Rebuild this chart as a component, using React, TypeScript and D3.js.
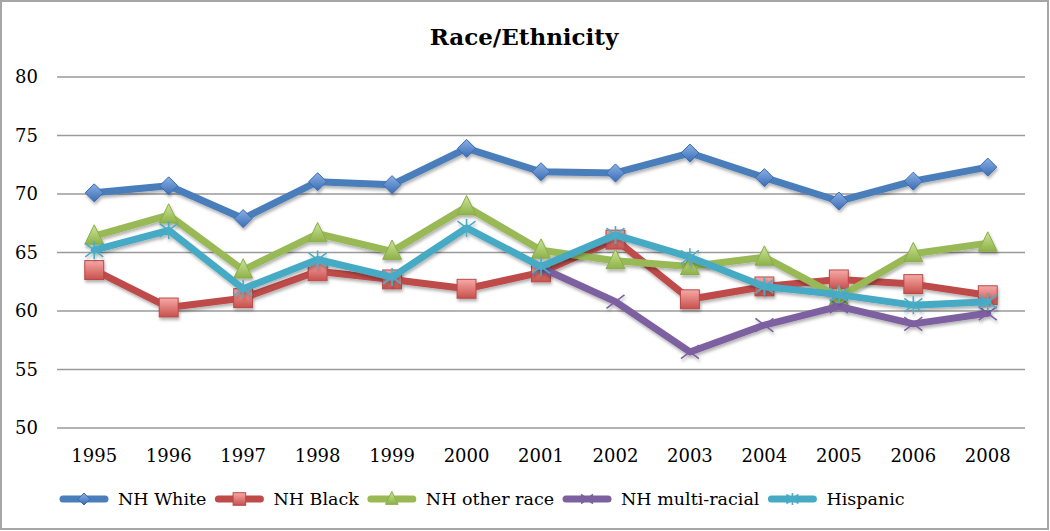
import React, { useEffect, useRef } from "react";
import * as d3 from "d3";

const years = ["1995", "1996", "1997", "1998", "1999", "2000", "2001", "2002", "2003", "2004", "2005", "2006", "2008"];
const nhWhite = [70.1, 70.7, 67.9, 71.05, 70.8, 73.9, 71.9, 71.8, 73.5, 71.4, 69.4, 71.1, 72.3];
const nhBlack = [63.5, 60.3, 61.1, 63.4, 62.7, 61.9, 63.3, 66.1, 61.0, 62.1, 62.7, 62.3, 61.35];
const nhOther = [66.4, 68.2, 63.5, 66.6, 65.1, 68.9, 65.2, 64.3, 63.8, 64.6, 61.2, 64.9, 65.8];
const nhMulti: (number | null)[] = [null, null, null, null, null, null, 63.7, 60.8, 56.5, 58.8, 60.4, 58.9, 59.8];
const hispanic = [65.2, 66.9, 61.9, 64.4, 62.9, 67.1, 63.8, 66.5, 64.6, 62.1, 61.4, 60.5, 60.8];
const yTicks = [50, 55, 60, 65, 70, 75, 80];

type Series = {
  name: string;
  values: (number | null)[];
  line: string;
  marker: "diamond" | "square" | "triangle" | "x" | "star";
  light: string;
  dark: string;
  stroke: string;
};

const series: Series[] = [
  { name: "NH White", values: nhWhite, line: "#4A7EBB", marker: "diamond", light: "#8AB0E4", dark: "#3A6DB5", stroke: "#3B6CB0" },
  { name: "NH Black", values: nhBlack, line: "#BE4B48", marker: "square", light: "#F7A9A7", dark: "#C8504C", stroke: "#B84A47" },
  { name: "NH other race", values: nhOther, line: "#98B954", marker: "triangle", light: "#CDE596", dark: "#8EB24A", stroke: "#8AAD4A" },
  { name: "NH multi-racial", values: nhMulti, line: "#7D60A0", marker: "x", light: "#7D60A0", dark: "#7D60A0", stroke: "#7D60A0" },
  { name: "Hispanic", values: hispanic, line: "#46AAC5", marker: "star", light: "#4BACC6", dark: "#4BACC6", stroke: "#4BACC6" },
];

const W = 1050;
const H = 531;
const FONT = "'DejaVu Serif', serif";

function drawMarker(g: any, s: Series, i: number, x: number, y: number, size: number) {
  const r = size / 2;
  const grad = `url(#grad${i})`;
  if (s.marker === "diamond") {
    g.append("path")
      .attr("d", `M${x},${y - r}L${x + r},${y}L${x},${y + r}L${x - r},${y}Z`)
      .attr("fill", grad).attr("stroke", s.stroke).attr("stroke-width", 1);
  } else if (s.marker === "square") {
    const a = r * 1.05;
    g.append("rect").attr("x", x - a).attr("y", y - a).attr("width", 2 * a).attr("height", 2 * a)
      .attr("fill", grad).attr("stroke", s.stroke).attr("stroke-width", 1);
  } else if (s.marker === "triangle") {
    const a = r * 1.05;
    g.append("path")
      .attr("d", `M${x},${y - a * 1.2}L${x + a},${y + a * 0.85}L${x - a},${y + a * 0.85}Z`)
      .attr("fill", grad).attr("stroke", s.stroke).attr("stroke-width", 1);
  } else if (s.marker === "x") {
    g.append("path")
      .attr("d", `M${x - r},${y - r * 0.75}L${x + r},${y + r * 0.75}M${x - r},${y + r * 0.75}L${x + r},${y - r * 0.75}`)
      .attr("stroke", s.stroke).attr("stroke-width", 1.6).attr("fill", "none");
  } else {
    g.append("path")
      .attr("d", `M${x - r},${y - r * 0.75}L${x + r},${y + r * 0.75}M${x - r},${y + r * 0.75}L${x + r},${y - r * 0.75}M${x},${y - r}L${x},${y + r}`)
      .attr("stroke", s.stroke).attr("stroke-width", 1.6).attr("fill", "none");
  }
}

export default function App() {
  const ref = useRef<SVGSVGElement | null>(null);

  useEffect(() => {
    const svg = d3.select(ref.current!);
    svg.selectAll("*").remove();

    const defs = svg.append("defs");
    series.forEach((s, i) => {
      const lg = defs.append("linearGradient").attr("id", `grad${i}`).attr("x1", 0).attr("y1", 0).attr("x2", 0).attr("y2", 1);
      lg.append("stop").attr("offset", "0%").attr("stop-color", s.light);
      lg.append("stop").attr("offset", "100%").attr("stop-color", s.dark);
    });
    const f = defs.append("filter").attr("id", "shadow").attr("x", "-10%").attr("y", "-10%").attr("width", "120%").attr("height", "130%");
    f.append("feDropShadow").attr("dx", 1).attr("dy", 2.5).attr("stdDeviation", 1.8).attr("flood-color", "#000").attr("flood-opacity", 0.3);

    svg.append("rect").attr("x", 1).attr("y", 1).attr("width", W - 3).attr("height", H - 3)
      .attr("fill", "#fff").attr("stroke", "#A6A6A6").attr("stroke-width", 2);

    svg.append("text").attr("x", 524).attr("y", 45).attr("text-anchor", "middle")
      .attr("font-family", FONT).attr("font-weight", "bold").attr("font-size", 23).attr("fill", "#000")
      .text("Race/Ethnicity");

    const x = d3.scalePoint<string>().domain(years).range([57, 1025]).padding(0.5);
    const y = d3.scaleLinear().domain([50, 80]).range([428, 77]);

    const grid = svg.append("g");
    yTicks.forEach((t) => {
      grid.append("line").attr("x1", 57).attr("x2", 1025).attr("y1", y(t)).attr("y2", y(t))
        .attr("stroke", "#9A9A9A").attr("stroke-width", 1.5);
      grid.append("text").attr("x", 38).attr("y", y(t)).attr("dy", "0.36em").attr("text-anchor", "end")
        .attr("font-family", FONT).attr("font-size", 18).attr("fill", "#000").text(String(t));
    });
    years.forEach((yr) => {
      grid.append("text").attr("x", x(yr)!).attr("y", 462).attr("text-anchor", "middle")
        .attr("font-family", FONT).attr("font-size", 18).attr("fill", "#000").text(yr);
    });

    series.forEach((s, i) => {
      const g = svg.append("g").attr("filter", "url(#shadow)");
      const pts = years.map((yr, k) => ({ yr, v: s.values[k] }));
      const line = d3.line<{ yr: string; v: number | null }>()
        .defined((d) => d.v !== null)
        .x((d) => x(d.yr)!)
        .y((d) => y(d.v as number));
      g.append("path").attr("d", line(pts)!).attr("fill", "none").attr("stroke", s.line)
        .attr("stroke-width", 7).attr("stroke-linejoin", "round").attr("stroke-linecap", "round");
      const mg = g.append("g");
      pts.forEach((p) => {
        if (p.v === null) return;
        drawMarker(mg, s, i, x(p.yr)!, y(p.v), 18);
      });
    });

    // legend
    const leg = svg.append("g");
    let lx = 60;
    const ly = 499;
    series.forEach((s, i) => {
      const item = leg.append("g");
      item.append("line").attr("x1", lx + 3).attr("x2", lx + 45).attr("y1", ly).attr("y2", ly)
        .attr("stroke", s.line).attr("stroke-width", 7).attr("stroke-linecap", "round");
      drawMarker(item, s, i, lx + 24, ly, 12);
      const t = item.append("text").attr("x", lx + 58).attr("y", ly).attr("dy", "0.36em")
        .attr("font-family", FONT).attr("font-size", 17.5).attr("fill", "#000").text(s.name);
      const w = (t.node() as SVGTextElement).getComputedTextLength();
      lx = lx + 58 + w + 9;
    });
  }, []);

  return (
    <svg ref={ref} width={W} height={H} style={{ position: "absolute", left: 0, top: 0, display: "block" }} />
  );
}
